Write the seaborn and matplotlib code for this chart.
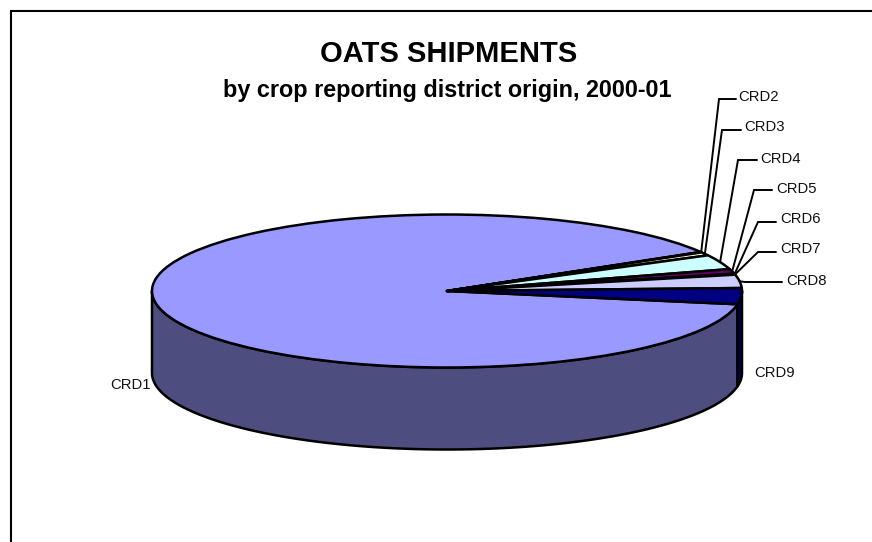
import numpy as np
import matplotlib
matplotlib.use("Agg")
import matplotlib.pyplot as plt
from matplotlib.lines import Line2D
import seaborn as sns

# ---- data -------------------------------------------------------------
categories = ["CRD1", "CRD2", "CRD3", "CRD4", "CRD5", "CRD6", "CRD7", "CRD8", "CRD9"]
shares = [88.7, 0.1, 0.7, 3.1, 1.0, 0.1, 0.1, 2.8, 3.4]
top_colors = ["#9999FF", "#993366", "#FFFFCC", "#CCFFFF", "#660066",
              "#FF8080", "#0066CC", "#CCCCFF", "#000080"]
side_colors = {"CRD1": "#4D4D80", "CRD9": "#000050"}
title_text = "OATS SHIPMENTS"
subtitle_text = "by crop reporting district origin, 2000-01"

# ---- layout (pixels of the 872x542 canvas) ----------------------------
W, H = 872, 542
CX, CY, RX, RY = 447.0, 291.0, 295.0, 76.5
DEPTH_PX = 82.0
START_ANGLE = -10.0
label_left = [110, 738, 744, 760, 776, 780, 780, 786, 754]
label_mid = [385, 97, 127, 159, 189, 219, 249, 281, 373]
elbows = {"CRD2": (719, 99, 736), "CRD3": (722, 130, 741), "CRD4": (738, 160, 757),
          "CRD5": (754, 190, 772), "CRD6": (758, 222, 776), "CRD7": (758, 252, 776),
          "CRD8": (745, 282, 782)}

sns.set_theme(style="white")
plt.rcParams["font.family"] = ["Liberation Sans", "DejaVu Sans"]

fig = plt.figure(figsize=(W / 100, H / 100), dpi=100, facecolor="white")
ax = fig.add_axes([0, 0, 1, 1])


def dx(px):
    return (px - CX) / RX


def dy(py):
    return (CY - py) / RY


palette = sns.color_palette(top_colors)
depth = DEPTH_PX / RY
values = np.asarray(shares, dtype=float)
sweep = values / values.sum() * 360.0
starts = START_ANGLE - np.concatenate([[0.0], np.cumsum(sweep)[:-1]])
ends = starts - sweep
mids = (starts + ends) / 2.0


def wall(a0, a1, color):
    t = np.radians(np.linspace(a0, a1, 120))
    x = np.cos(t)
    y = np.sin(t)
    ax.fill(np.r_[x, x[::-1]], np.r_[y, y[::-1] - depth], facecolor=color,
            edgecolor="black", linewidth=1.8, joinstyle="round", zorder=1)


wall(-180.0, START_ANGLE, side_colors["CRD1"])
wall(START_ANGLE, 0.0, side_colors["CRD9"])

ax.pie(values, colors=palette, startangle=START_ANGLE, counterclock=False, radius=1.0,
       wedgeprops=dict(edgecolor="black", linewidth=1.8, joinstyle="round", zorder=2))
ax.set_aspect("auto")
ax.set_xlim(dx(0), dx(W))
ax.set_ylim(dy(H), dy(0))
ax.set_axis_off()

# leaders and labels
for name, mid, lx, ly in zip(categories, mids, label_left, label_mid):
    ax.text(dx(lx), dy(ly), name, fontsize=10.7, color="#111111", ha="left",
            va="center", zorder=4)
    if name in elbows:
        ex, ey, tx = elbows[name]
        t = np.radians(mid)
        ax.plot([np.cos(t), dx(ex), dx(tx)], [np.sin(t), dy(ey), dy(ey)],
                color="black", linewidth=1.4, solid_joinstyle="miter", zorder=3)

# titles
ax.text(dx(449), dy(54), title_text, fontsize=21, fontweight="bold", color="black",
        ha="center", va="center")
ax.text(dx(447), dy(90), subtitle_text, fontsize=16.8, fontweight="bold", color="black",
        ha="center", va="center")

# chart-area border: top and left only, the rest is cropped
fig.add_artist(Line2D([10.5 / W, 10.5 / W, 1], [0, 1 - 10.5 / H, 1 - 10.5 / H],
                      color="black", linewidth=1.5, solid_joinstyle="miter",
                      transform=fig.transFigure))

fig.savefig("out.png", dpi=100, facecolor="white")
